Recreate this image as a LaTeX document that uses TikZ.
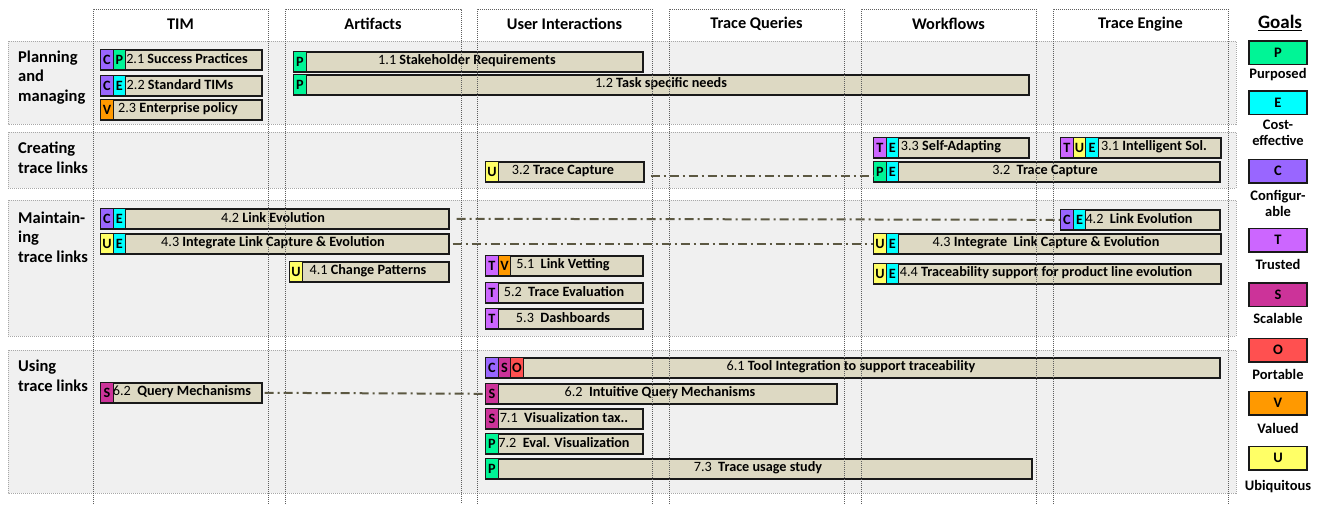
\documentclass[tikz,border=0pt]{standalone}
\usepackage{fontspec}
\setmainfont{Carlito}
\usetikzlibrary{calc}
\definecolor{beige}{HTML}{DDD9C3}
\definecolor{bandfill}{HTML}{F0F0F0}
\definecolor{bandline}{HTML}{A8A8A8}
\definecolor{colline}{HTML}{5E5E5E}
\definecolor{linkcol}{HTML}{5C5842}
\definecolor{cP}{HTML}{00F596}
\definecolor{cE}{HTML}{00FFFF}
\definecolor{cC}{HTML}{9966FF}
\definecolor{cT}{HTML}{CC66FF}
\definecolor{cS}{HTML}{CC3399}
\definecolor{cO}{HTML}{FF5050}
\definecolor{cV}{HTML}{FF9900}
\definecolor{cU}{HTML}{FFFF66}
\tikzset{
  itembox/.style={draw=black!90, line width=1.6pt, fill=beige, rectangle, inner sep=0pt},
  goaltag/.style={draw=black!90, line width=1.4pt, rectangle, inner sep=0pt, minimum width=12.5pt, font=\fontsize{14.2}{16}\selectfont\bfseries},
  itemtext/.style={inner sep=0pt, font=\fontsize{14.2}{16}\selectfont},
  rowlabel/.style={inner sep=0pt, anchor=west, align=left, font=\fontsize{16.5}{19.5}\selectfont\bfseries},
  colhead/.style={inner sep=0pt, font=\fontsize{16.3}{19}\selectfont\bfseries},
  band/.style={fill=bandfill, draw=bandline, line width=0.9pt, dash pattern=on 1pt off 1pt},
  colframe/.style={draw=colline, line width=0.9pt, dash pattern=on 1pt off 1pt},
  tlink/.style={draw=linkcol, line width=2pt, dash pattern=on 9pt off 4pt on 2pt off 4pt},
  legbox/.style={draw=black!90, line width=1.5pt, rectangle, inner sep=0pt, minimum width=58pt, minimum height=23.5pt, font=\fontsize{14.5}{16}\selectfont\bfseries},
  leglabel/.style={inner sep=0pt, align=center, font=\fontsize{14.5}{16}\selectfont\bfseries},
}
% name, x1, y1, x2, y2, tags, text centre x, text
\newcommand\itm[8]{%
  \node[itembox, minimum width={(#4-#2)*1pt}, minimum height={(#5-#3)*1pt}, anchor=north west] (#1) at (#2,#3) {};
  \foreach \tg [count=\i from 0] in {#6}{%
    \node[goaltag, fill=c\tg, minimum height={(#5-#3)*1pt}, anchor=north west] (#1-\tg) at ({#2+12.5*\i},#3) {\tg};
  }
  \node[itemtext] (#1-txt) at (#7,{(#3+#5)/2}) {#8};
}
\begin{document}
\begin{tikzpicture}[x=1pt,y=-1pt]
\useasboundingbox[fill=white] (0,0) rectangle (1325,504);

% row bands
\path[band] (8,41) rectangle (1236,124);
\path[band] (8,132) rectangle (1236,188);
\path[band] (8,200) rectangle (1236,336);
\path[band] (8,350) rectangle (1236,493);

% row labels
\node[rowlabel] (rPlan) at (18,77.5) {Planning\\and\\managing};
\node[rowlabel] (rCreate) at (18,158) {Creating\\trace links};
\node[rowlabel] (rMaint) at (18,237) {Maintain-\\ing\\trace links};
\node[rowlabel] (rUse) at (18,376) {Using\\trace links};

% column headers
\node[colhead] (hTIM) at (180.5,24) {TIM};
\node[colhead] (hArt) at (373,24) {Artifacts};
\node[colhead] (hUI) at (564.5,24) {User Interactions};
\node[colhead] (hTQ) at (756.5,24) {Trace Queries};
\node[colhead] (hWF) at (948.5,24) {Workflows};
\node[colhead] (hTE) at (1140.5,24) {Trace Engine};

% Planning and managing
\itm{b21}{100}{49}{261}{69}{C,P}{187}{2.1 \textbf{Success Practices}}
\itm{b22}{100}{75}{261}{95}{C,E}{180}{2.2 \textbf{Standard TIMs}}
\itm{b23}{100}{99}{261}{119}{V}{178}{2.3 \textbf{Enterprise policy}}
\itm{b11}{293}{51}{642}{71}{P}{467}{1.1 \textbf{Stakeholder Requirements}}
\itm{b12}{293}{74}{1028}{94}{P}{661}{1.2 \textbf{Task specific needs}}

% Creating trace links
\itm{b32a}{485}{161}{643}{181}{U}{563}{3.2 \textbf{Trace Capture}}
\itm{b33}{873}{137}{1028}{157}{T,E}{951}{3.3 \textbf{Self-Adapting}}
\itm{b31}{1060}{137}{1220}{157}{T,U,E}{1154}{3.1 \textbf{Intelligent Sol.}}
\itm{b32b}{873}{161}{1219}{181}{P,E}{1045}{3.2\ \ \textbf{Trace Capture}}

% Maintaining trace links
\itm{b42a}{100}{208}{448}{228}{C,E}{273}{4.2 \textbf{Link Evolution}}
\itm{b43a}{100}{233}{448}{253}{U,E}{273}{4.3 \textbf{Integrate Link Capture \& Evolution}}
\itm{b41}{289}{261}{448}{281}{U}{368}{4.1 \textbf{Change Patterns}}
\itm{b51}{485}{255}{642}{275}{T,V}{563}{5.1\ \ \textbf{Link Vetting}}
\itm{b52}{485}{282}{642}{302}{T}{564}{5.2\ \ \textbf{Trace Evaluation}}
\itm{b53}{485}{308}{642}{328}{T}{563}{5.3\ \ \textbf{Dashboards}}
\itm{b42b}{1060}{209}{1219}{229}{C,E}{1139}{4.2\ \ \textbf{Link Evolution}}
\itm{b43b}{873}{233}{1220}{253}{U,E}{1046}{4.3 \textbf{Integrate\ \ Link Capture \& Evolution}}
\itm{b44}{873}{263}{1220}{283}{U,E}{1046}{4.4 \textbf{Traceability support for product line evolution}}

% Using trace links
\itm{b62a}{100}{382}{261}{402}{S}{182}{6.2\ \ \textbf{Query Mechanisms}}
\itm{b61}{485}{357}{1219}{377}{C,S,O}{851}{6.1 \textbf{Tool Integration to support traceability}}
\itm{b62b}{485}{383}{836}{403}{S}{660}{6.2\ \ \textbf{Intuitive Query Mechanisms}}
\itm{b71}{485}{408}{642}{428}{S}{564}{7.1\ \ \textbf{Visualization tax..}}
\itm{b72}{485}{433}{642}{453}{P}{564}{7.2\ \ \textbf{Eval. Visualization}}
\itm{b73}{485}{458}{1031}{478}{P}{758}{7.3\ \ \textbf{Trace usage study}}

% dash-dot connectors
\draw[tlink] ([xshift=6pt,yshift=-4pt]b32a.east) -- ([yshift=-4pt]b32b.west);
\draw[tlink] ([xshift=7pt]b42a.east) -- (b42b.west);
\draw[tlink] ([xshift=3pt]b43a.east) -- (b43b.west);
\draw[tlink] ([xshift=2pt]b62a.east) -- (b62b.west);

% column frames (drawn on top)
\foreach \xa/\xb in {93/268, 285/461, 477/652, 669/844, 861/1036, 1053/1228}{
  \draw[colframe] (\xa,504) -- (\xa,9) -- (\xb,9) -- (\xb,504);
}

% legend
\node[inner sep=0pt, font=\fontsize{19}{22}\selectfont\bfseries] (goals) at (1280,23) {\underline{Goals}};
\node[legbox, fill=cP] (gP) at (1278,52.5) {P};
\node[leglabel] (gPl) at (1278,75) {Purposed};
\node[legbox, fill=cE] (gE) at (1278,102.5) {E};
\node[leglabel] (gEl) at (1278,133) {Cost-\\effective};
\node[legbox, fill=cC] (gC) at (1278,171) {C};
\node[leglabel] (gCl) at (1278,203) {Configur-\\able};
\node[legbox, fill=cT] (gT) at (1278,240) {T};
\node[leglabel] (gTl) at (1278,264) {Trusted};
\node[legbox, fill=cS] (gS) at (1278,294.5) {S};
\node[leglabel] (gSl) at (1278,318) {Scalable};
\node[legbox, fill=cO] (gO) at (1278,350) {O};
\node[leglabel] (gOl) at (1278,374) {Portable};
\node[legbox, fill=cV] (gV) at (1278,403) {V};
\node[leglabel] (gVl) at (1278,428) {Valued};
\node[legbox, fill=cU] (gU) at (1278,458) {U};
\node[leglabel] (gUl) at (1278,487) {Ubiquitous};
\end{tikzpicture}
\end{document}
